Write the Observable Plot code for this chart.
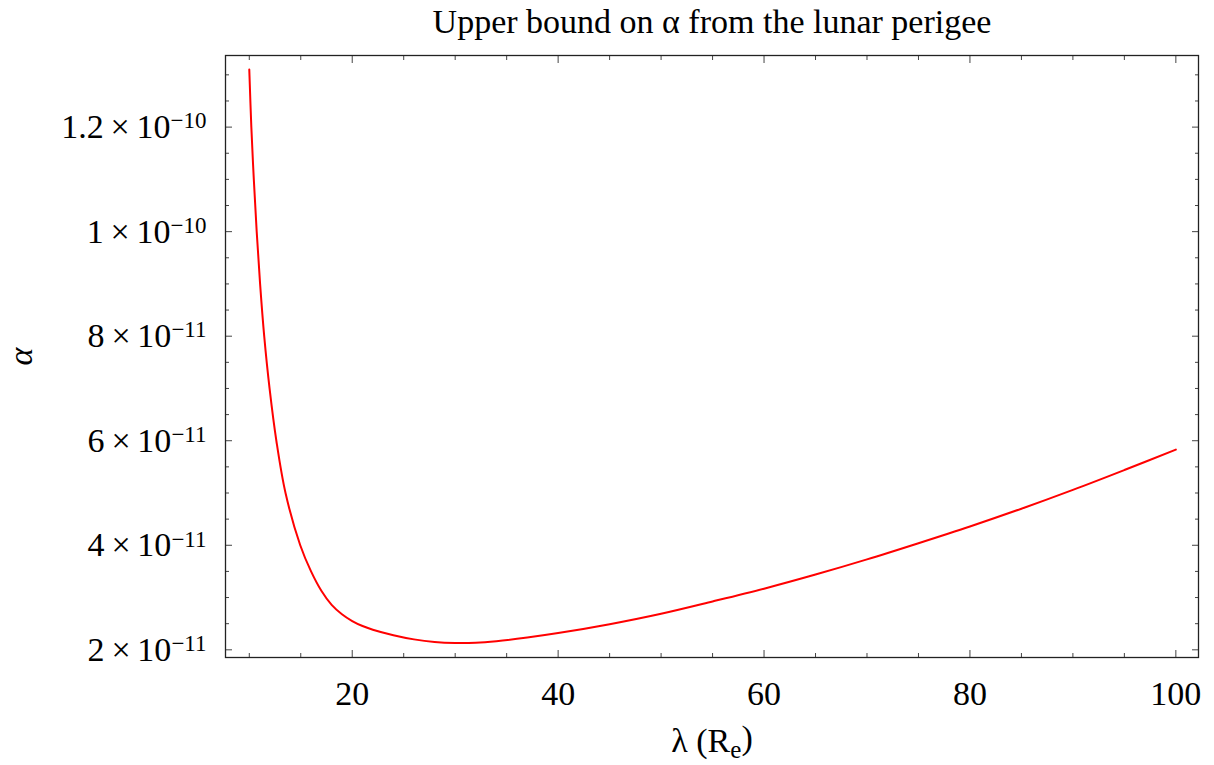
<!DOCTYPE html>
<html><head><meta charset="utf-8">
<script src="https://cdn.jsdelivr.net/npm/d3@7"></script>
<script src="https://cdn.jsdelivr.net/npm/@observablehq/plot@0.6"></script>
<style>
html,body{margin:0;padding:0;background:#fff;}
#chart svg{display:block;}
</style>
</head><body><div id="chart"></div>
<script>
// Data
const lambdaRe = [10, 10.2, 10.44, 10.72, 11.05, 11.45, 11.97, 12.63, 13.52, 14.95, 16, 17, 18, 19, 20, 21, 22, 24, 26, 28, 30, 32, 34, 37, 40, 45, 50, 55, 60, 65, 70, 75, 80, 85, 90, 95, 100];
const alphaE11 = [13.1, 12, 11, 10, 9, 8, 7, 6, 5, 4, 3.5, 3.13, 2.86, 2.68, 2.55, 2.455, 2.385, 2.28, 2.2, 2.15, 2.13, 2.135, 2.165, 2.235, 2.32, 2.49, 2.69, 2.925, 3.17, 3.44, 3.73, 4.04, 4.36, 4.7, 5.06, 5.44, 5.83];
const xMajorTicks = [20, 40, 60, 80, 100];
const xMinorTicks = [10, 15, 25, 30, 35, 45, 50, 55, 65, 70, 75, 85, 90, 95];
const yMajorTicks = [2e-11, 4e-11, 6e-11, 8e-11, 1e-10, 1.2e-10];
const yTickMantissa = ["2", "4", "6", "8", "1", "1.2"];
const yTickExponent = ["−11", "−11", "−11", "−11", "−10", "−10"];
const yMinorTicks = [2.5e-11, 3e-11, 3.5e-11, 4.5e-11, 5e-11, 5.5e-11, 6.5e-11, 7e-11, 7.5e-11, 8.5e-11, 9e-11, 9.5e-11, 1.05e-10, 1.1e-10, 1.15e-10, 1.25e-10, 1.3e-10];
const titleText = "Upper bound on α from the lunar perigee";

const data = lambdaRe.map((l, i) => ({lambda: l, alpha: alphaE11[i] * 1e-11}));
const FONT = "'Liberation Serif', 'Times New Roman', serif";

const plot = Plot.plot({
  width: 1214,
  height: 765,
  marginLeft: 225,
  marginRight: 16,
  marginTop: 55,
  marginBottom: 108,
  style: {fontFamily: FONT, background: "#fff", color: "#000"},
  x: {domain: [7.69, 102.2]},
  y: {domain: [1.853e-11, 1.337e-10]},
  marks: [
    // inward tick marks on all four sides
    Plot.axisX(xMajorTicks, {anchor: "bottom", tickSize: -7, tickFormat: () => "", stroke: "#444", label: null}),
    Plot.axisX(xMinorTicks, {anchor: "bottom", tickSize: -4, tickFormat: () => "", stroke: "#444", label: null}),
    Plot.axisX(xMajorTicks, {anchor: "top", tickSize: -7, tickFormat: () => "", stroke: "#444", label: null}),
    Plot.axisX(xMinorTicks, {anchor: "top", tickSize: -4, tickFormat: () => "", stroke: "#444", label: null}),
    Plot.axisY(yMajorTicks, {anchor: "left", tickSize: -7, tickFormat: () => "", stroke: "#444", label: null}),
    Plot.axisY(yMinorTicks, {anchor: "left", tickSize: -4, tickFormat: () => "", stroke: "#444", label: null}),
    Plot.axisY(yMajorTicks, {anchor: "right", tickSize: -7, tickFormat: () => "", stroke: "#444", label: null}),
    Plot.axisY(yMinorTicks, {anchor: "right", tickSize: -4, tickFormat: () => "", stroke: "#444", label: null}),
    // tick labels
    Plot.axisX(xMajorTicks, {anchor: "bottom", tickSize: 0, tickPadding: 23, fontSize: 34, tickFormat: d => String(d),
      label: "λ (R_e)", labelAnchor: "center", labelArrow: "none", labelOffset: 94}),
    Plot.axisY(yMajorTicks, {anchor: "left", tickSize: 0, tickPadding: 19, fontSize: 34,
      tickFormat: d => yTickMantissa[yMajorTicks.indexOf(d)] + "\u2009×\u200910|" + yTickExponent[yMajorTicks.indexOf(d)],
      label: "α", labelAnchor: "center", labelArrow: "none", labelOffset: 218}),
    Plot.frame({stroke: "#222", strokeWidth: 1.3}),
    Plot.line(data, {x: "lambda", y: "alpha", stroke: "#ff0000", strokeWidth: 2, curve: "catmull-rom"}),
    Plot.text([titleText], {frameAnchor: "top", dy: -33, fontSize: 34, fill: "#000", lineAnchor: "middle"})
  ]
});

document.getElementById("chart").appendChild(plot);
const svg = d3.select(plot);

// superscript exponents on y tick labels
svg.selectAll("text").each(function() {
  const t = d3.select(this);
  const tsp = t.selectAll("tspan");
  if (tsp.size() === 0) {
    const s = t.text();
    if (s.includes("|")) {
      const [m, e] = s.split("|");
      t.text(m);
      t.append("tspan").attr("dy", "-0.42em").attr("font-size", "23px").text(e);
    }
  } else {
    const parent = this;
    tsp.each(function() {
      const ts = d3.select(this);
      const s = ts.text();
      if (s.includes("|")) {
        const [m, e] = s.split("|");
        ts.text(m);
        d3.select(parent).append("tspan").attr("dy", "-0.42em").attr("font-size", "23px").text(e);
      }
    });
  }
});

// axis label styling (subscript e, italic alpha)
svg.selectAll("text").each(function() {
  const t = d3.select(this);
  const s = t.text();
  if (s === "λ (R_e)") {
    t.text("λ (R");
    t.append("tspan").attr("dy", "0.25em").attr("font-size", "25px").text("e");
    t.append("tspan").attr("dy", "-0.25em").text(")");
    t.attr("font-size", 34);
  } else if (s === "α") {
    t.attr("font-style", "italic").attr("font-size", 34);
  }
});
</script>
</body></html>
